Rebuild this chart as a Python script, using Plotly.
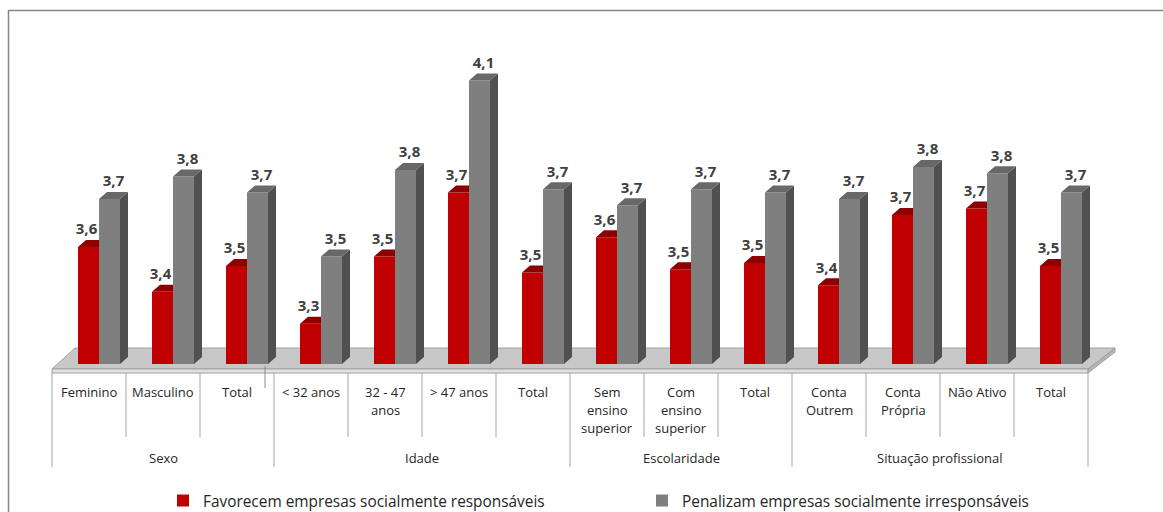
import plotly.graph_objects as go

# ---------------- data ----------------
categories = ["Feminino", "Masculino", "Total",
              "< 32 anos", "32 - 47<br>anos", "> 47 anos", "Total",
              "Sem<br>ensino<br>superior", "Com<br>ensino<br>superior", "Total",
              "Conta<br>Outrem", "Conta<br>Própria", "Não Ativo", "Total"]
groups = ["Sexo", "Idade", "Escolaridade", "Situação profissional"]
group_sizes = [3, 4, 3, 4]
series_names = ["Favorecem empresas socialmente responsáveis",
                "Penalizam empresas socialmente irresponsáveis"]
favorecem = [3.56, 3.42, 3.50, 3.32, 3.53, 3.73, 3.48, 3.59, 3.49, 3.51, 3.44, 3.66, 3.68, 3.50]
penalizam = [3.71, 3.78, 3.73, 3.53, 3.80, 4.08, 3.74, 3.69, 3.74, 3.73, 3.71, 3.81, 3.79, 3.73]

# ---------------- layout constants (pixels) ----------------
W, H = 1163, 512
AX_LEFT = 52          # left edge of first category
CAT_PX = 74           # category width in px
BASE_PX = 364         # pixel row of bar bottoms
PX_PER_UNIT = 320     # vertical scale
FLOOR_V = 3.194       # value at bar bottoms
DX, DY = 8, 7         # 3D depth offset in px

RED, RED_TOP = "#c00000", "#8e0000"
GRAY, GRAY_TOP, GRAY_SIDE = "#7f7f7f", "#686868", "#505050"
TXT = "#404040"


def ux(px):  # px -> x units
    return px / CAT_PX


def uy(px):  # px -> y units
    return px / PX_PER_UNIT


def xd(p):   # absolute pixel -> x data
    return (p - AX_LEFT) / CAT_PX - 0.5


def yd(p):   # absolute pixel -> y data
    return FLOOR_V + (BASE_PX - p) / PX_PER_UNIT


idx = list(range(len(categories)))
fig = go.Figure()

# front faces (bars)
fig.add_trace(go.Bar(
    x=[i + ux(-0.5) for i in idx], y=[v - FLOOR_V for v in favorecem], base=FLOOR_V,
    width=ux(21), marker=dict(color=RED, line=dict(width=0)),
    name=series_names[0], hoverinfo="skip"))
fig.add_trace(go.Bar(
    x=[i + ux(20.5) for i in idx], y=[v - FLOOR_V for v in penalizam], base=FLOOR_V,
    width=ux(21), marker=dict(color=GRAY, line=dict(width=0)),
    name=series_names[1], hoverinfo="skip"))


def poly_trace(polys, color):
    xs, ys = [], []
    for pts in polys:
        for (a, b) in pts:
            xs.append(a)
            ys.append(b)
        xs.append(pts[0][0])
        ys.append(pts[0][1])
        xs.append(None)
        ys.append(None)
    return go.Scatter(x=xs, y=ys, mode="lines", fill="toself", fillcolor=color,
                      line=dict(width=0, color=color), showlegend=False, hoverinfo="skip")


# red top faces (right part hidden by grey bar)
red_tops = []
for i, v in zip(idx, favorecem):
    red_tops.append([(i + ux(-11), v), (i + ux(10), v), (i + ux(10), v + uy(DY)),
                     (i + ux(-11 + DX), v + uy(DY))])
fig.add_trace(poly_trace(red_tops, RED_TOP))

# grey side & top faces
gray_sides, gray_tops = [], []
for i, v in zip(idx, penalizam):
    gray_sides.append([(i + ux(31), FLOOR_V), (i + ux(31), v), (i + ux(31 + DX), v + uy(DY)),
                       (i + ux(31 + DX), FLOOR_V + uy(DY))])
    gray_tops.append([(i + ux(10), v), (i + ux(31), v), (i + ux(31 + DX), v + uy(DY)),
                      (i + ux(10 + DX), v + uy(DY))])
fig.add_trace(poly_trace(gray_sides, GRAY_SIDE))
fig.add_trace(poly_trace(gray_tops, GRAY_TOP))

# data labels
LBL_FONT = dict(family="Open Sans", size=15, color=TXT, weight="bold")
fig.add_trace(go.Scatter(
    x=[i + ux(-2.5) for i in idx], y=[v + uy(16.5) for v in favorecem],
    customdata=favorecem, mode="text", texttemplate="%{customdata:.1f}",
    textfont=LBL_FONT, showlegend=False, hoverinfo="skip", cliponaxis=False))
fig.add_trace(go.Scatter(
    x=[i + ux(24.5) for i in idx], y=[v + uy(16.5) for v in penalizam],
    customdata=penalizam, mode="text", texttemplate="%{customdata:.1f}",
    textfont=LBL_FONT, showlegend=False, hoverinfo="skip", cliponaxis=False))


# ---------------- floor ----------------
def path(pts):
    return "M " + " L ".join(f"{a},{b}" for a, b in pts) + " Z"


n = len(categories)
fl, fr = xd(AX_LEFT), xd(AX_LEFT + n * CAT_PX)
shapes = []
shapes.append(dict(type="path", xref="x", yref="y", layer="below",
                   path=path([(fl, yd(369)), (fr, yd(369)), (fr + ux(27), yd(348)), (fl + ux(23), yd(348))]),
                   fillcolor="#c8c8c8", line=dict(color="#a0a0a0", width=1)))
shapes.append(dict(type="path", xref="x", yref="y", layer="below",
                   path=path([(fl, yd(369)), (fr, yd(369)), (fr, yd(373)), (fl, yd(373))]),
                   fillcolor="#e2e2e2", line=dict(color="#a0a0a0", width=1)))
shapes.append(dict(type="path", xref="x", yref="y", layer="below",
                   path=path([(fr, yd(369)), (fr + ux(27), yd(348)), (fr + ux(27), yd(352)), (fr, yd(373))]),
                   fillcolor="#b4b4b4", line=dict(color="#a0a0a0", width=1)))

# category dividers
LINE_C = "#a6a6a6"
bounds = [0]
for g in group_sizes:
    bounds.append(bounds[-1] + g)
for b in range(n + 1):
    bottom = 467 if b in bounds else 437
    shapes.append(dict(type="line", xref="x", yref="paper", x0=b - 0.5, x1=b - 0.5,
                       y0=1 - 373 / H, y1=1 - bottom / H, line=dict(color=LINE_C, width=1)))
# small stray tick seen in the reference
shapes.append(dict(type="line", xref="x", yref="paper", x0=bounds[1] - 0.5 - ux(9), x1=bounds[1] - 0.5 - ux(9),
                   y0=1 - 366 / H, y1=1 - 388 / H, line=dict(color="#8c8c8c", width=1)))
# outer chart border
shapes.append(dict(type="line", xref="paper", yref="paper", x0=8.5 / W, x1=1.0, y0=1 - 10.5 / H, y1=1 - 10.5 / H,
                   line=dict(color="#868686", width=1.5)))
shapes.append(dict(type="line", xref="paper", yref="paper", x0=8.5 / W, x1=8.5 / W, y0=1 - 10 / H, y1=0,
                   line=dict(color="#868686", width=1.5)))

# category labels
CAT_FONT = dict(family="Open Sans", size=13, color="#262626")
annotations = []
for i, lab in enumerate(categories):
    for k, line in enumerate(lab.split("<br>")):
        annotations.append(dict(x=i, y=1 - (392 + 18 * k) / H, xref="x", yref="paper",
                                text=line, showarrow=False, xanchor="center", yanchor="middle",
                                font=CAT_FONT))
for g, name in enumerate(groups):
    cx = (bounds[g] + bounds[g + 1] - 1) / 2
    annotations.append(dict(x=cx, y=1 - 457.5 / H, xref="x", yref="paper", text=name,
                            showarrow=False, xanchor="center", yanchor="middle",
                            font=CAT_FONT))

fig.update_layout(
    width=W, height=H, margin=dict(l=0, r=0, t=0, b=0, autoexpand=False),
    paper_bgcolor="white", plot_bgcolor="white",
    barmode="overlay", separators=",.",
    xaxis=dict(range=[xd(0), xd(W)], visible=False, fixedrange=True),
    yaxis=dict(range=[yd(H), yd(0)], visible=False, fixedrange=True),
    shapes=shapes, annotations=annotations,
    showlegend=True,
    legend=dict(orientation="h", x=163 / W, y=1 - 501 / H, xanchor="left", yanchor="middle",
                entrywidth=434, entrywidthmode="pixels", bgcolor="rgba(0,0,0,0)",
                font=dict(family="Open Sans", size=15.4, color="#262626"),
                traceorder="normal"),
)

fig.write_html("out.html")
